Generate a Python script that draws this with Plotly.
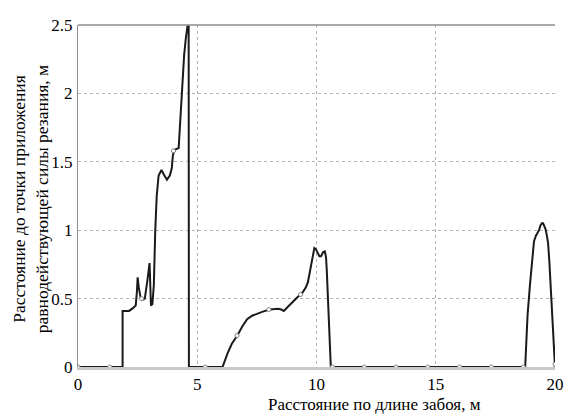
import plotly.graph_objects as go

# Main curve: distance along the face (m) vs distance to the resultant cutting force point (m)
x_vals = [0, 1.87, 1.87, 2.14, 2.30, 2.42, 2.47, 2.50, 2.55, 2.62, 2.69, 2.80, 2.90, 3.00,
          3.03, 3.06, 3.12, 3.18, 3.24, 3.30, 3.38, 3.50, 3.62, 3.73, 3.85, 3.93, 3.98,
          4.07, 4.22, 4.34, 4.45, 4.52, 4.59, 4.64, 4.65,
          6.06, 6.15, 6.27, 6.45, 6.68, 6.90, 7.09, 7.30, 7.50, 7.75, 8.05, 8.25, 8.40,
          8.52, 8.63, 8.80, 9.02, 9.20, 9.40, 9.55, 9.64, 9.72, 9.77, 9.85, 9.91, 9.98,
          10.05, 10.12, 10.19, 10.28, 10.35, 10.40, 10.43, 10.52, 10.60,
          18.75, 18.80, 18.85, 18.95, 19.02, 19.08, 19.12, 19.20, 19.26, 19.33, 19.39,
          19.45, 19.50, 19.56, 19.60, 19.66, 19.71, 19.76, 19.81, 19.88, 19.95, 20.0]
y_vals = [0, 0, 0.41, 0.41, 0.43, 0.45, 0.55, 0.655, 0.58, 0.51, 0.49, 0.50, 0.62, 0.76,
          0.60, 0.45, 0.46, 0.60, 1.00, 1.25, 1.40, 1.44, 1.40, 1.37, 1.40, 1.45, 1.55,
          1.59, 1.60, 2.00, 2.28, 2.40, 2.49, 2.49, 0,
          0, 0.05, 0.10, 0.17, 0.23, 0.30, 0.35, 0.375, 0.39, 0.405, 0.42, 0.425, 0.425,
          0.42, 0.41, 0.44, 0.48, 0.51, 0.54, 0.58, 0.62, 0.70, 0.76, 0.84, 0.87, 0.86,
          0.83, 0.81, 0.81, 0.84, 0.845, 0.80, 0.71, 0.35, 0,
          0, 0.20, 0.38, 0.60, 0.74, 0.86, 0.92, 0.96, 0.98, 1.00, 1.035,
          1.05, 1.05, 1.03, 1.01, 0.96, 0.905, 0.78, 0.62, 0.35, 0.10, 0.0]

# Sample markers on the curve
mark_x = [0, 1.333, 2.667, 4.0, 5.333, 6.667, 8.0, 9.333, 10.667, 12.0, 13.333,
          14.667, 16.0, 17.333, 18.667, 20.0]
mark_y = [0, 0, 0.50, 1.58, 0, 0.23, 0.42, 0.53, 0, 0, 0, 0, 0, 0, 0, 0.02]

x_ticks = [0, 5, 10, 15, 20]
y_ticks = [0, 0.5, 1, 1.5, 2, 2.5]
y_tick_text = ["0", "0.5", "1", "1.5", "2", "2.5"]

FONT = "Times New Roman, Liberation Serif, Tinos, DejaVu Serif, serif"

fig = go.Figure()
fig.add_trace(go.Scatter(x=x_vals, y=y_vals, mode="lines",
                         line=dict(color="#1a1a1a", width=2), hoverinfo="skip"))
fig.add_trace(go.Scatter(x=mark_x, y=mark_y, mode="markers",
                         marker=dict(symbol="circle", size=4, color="white",
                                     line=dict(color="#808080", width=1)),
                         hoverinfo="skip"))

fig.update_layout(
    width=564, height=408,
    margin=dict(l=70, r=9, t=8, b=49),
    paper_bgcolor="white", plot_bgcolor="white",
    showlegend=False,
    font=dict(family=FONT, size=17, color="black"),
    xaxis=dict(range=[0, 20], tickvals=x_ticks, ticks="", showgrid=True,
               gridcolor="#b4b4b4", griddash="dot", gridwidth=1,
               zeroline=False, showline=True, linecolor="#c8c8c8", linewidth=3,
               layer="below traces", tickfont=dict(family=FONT, size=17),
               ticklabelstandoff=0, ticklabeloverflow="allow"),
    yaxis=dict(range=[0, 2.5], tickvals=y_ticks, ticktext=y_tick_text, ticks="",
               showgrid=True, gridcolor="#b4b4b4", griddash="dot", gridwidth=1,
               zeroline=False, showline=True, linecolor="#8c8c8c", linewidth=1,
               layer="below traces", tickfont=dict(family=FONT, size=17),
               ticklabelstandoff=1, ticklabeloverflow="allow"),
    shapes=[dict(type="line", xref="paper", yref="paper", x0=0, x1=1, y0=1, y1=1,
                 line=dict(color="#8c8c8c", width=1.5))],
    annotations=[
        dict(text="Расстояние по длине забоя, м", xref="paper", yref="paper",
             x=0.621, y=-0.11, xanchor="center", yanchor="middle", showarrow=False,
             font=dict(family=FONT, size=17, color="black")),
        dict(text="Расстояние до точки приложения<br>равнодействующей силы резания, м",
             xref="paper", yref="paper", x=-0.099, y=0.49, xanchor="center",
             yanchor="middle", textangle=-90, showarrow=False,
             font=dict(family=FONT, size=17.5, color="black")),
    ],
)

fig.write_html("out.html")
